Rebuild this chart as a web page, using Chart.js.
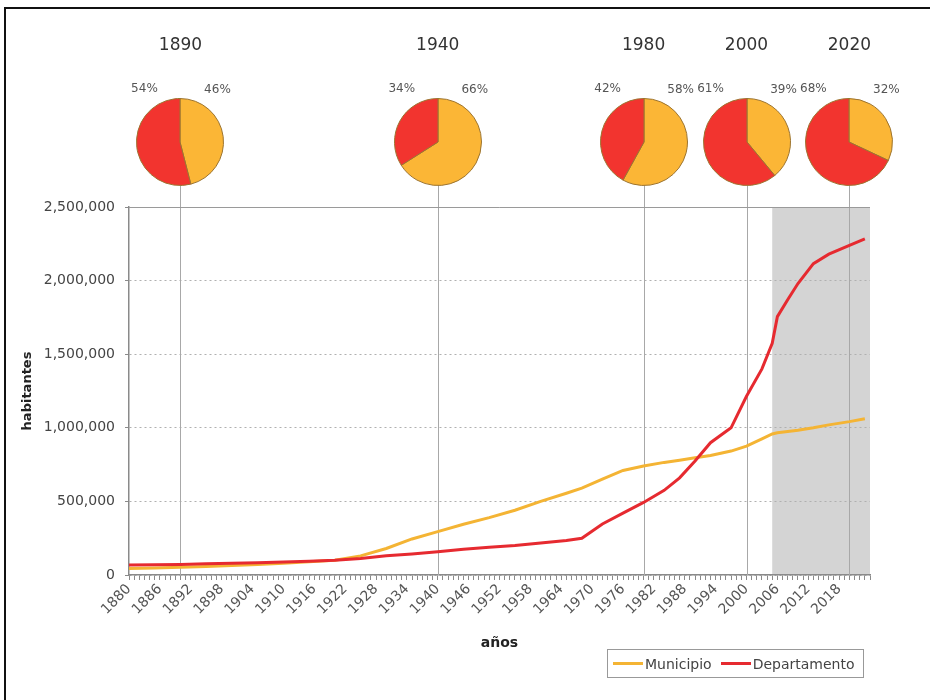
<!DOCTYPE html>
<html>
<head>
<meta charset="utf-8">
<script src="https://cdn.jsdelivr.net/npm/chart.js@4.4.1/dist/chart.umd.min.js"></script>
<style>
html,body{margin:0;padding:0;background:#fff;width:930px;height:700px;overflow:hidden;font-family:"DejaVu Sans",sans-serif;}
#wrap{position:relative;width:930px;height:700px;}
#frame{position:absolute;left:4px;top:7px;width:960px;height:720px;border-left:2px solid #111;border-top:2px solid #111;pointer-events:none;}
#main{position:absolute;left:0;top:0;}
.pie{position:absolute;}
.yr{position:absolute;font-size:17px;color:#333;transform:translateX(-50%);white-space:nowrap;}
.pct{position:absolute;font-size:12px;color:#555;transform:translateX(-50%);white-space:nowrap;}
#legend{position:absolute;left:607px;top:649px;width:257px;height:29px;border:1.5px solid #999;box-sizing:border-box;font-size:14px;color:#444;display:flex;align-items:center;padding-left:5px;}
#legend .sw{display:inline-block;width:30px;height:3px;margin-right:2px;}
#legend .it{display:flex;align-items:center;margin-right:9px;}
</style>
</head>
<body>
<div id="wrap">
  <canvas id="main" width="930" height="700"></canvas>
  <div id="legend"></div>
  <div id="frame"></div>
</div>
<script>
// ---- data ----
const years = [1880,1885,1890,1895,1900,1905,1910,1915,1920,1925,1930,1935,1940,1945,1950,1955,1960,1965,1968,1972,1976,1980,1984,1987,1990,1993,1997,2000,2003,2005,2006,2008,2010,2013,2016,2020,2023];
const municipio = [45000,48000,52000,58000,65000,72000,80000,90000,100000,130000,180000,245000,295000,345000,390000,440000,500000,555000,590000,651000,710000,741000,765000,780000,797000,812000,842000,876000,925000,958000,966000,975000,984000,1000000,1020000,1042000,1061000];
const departamento = [68000,70000,72000,76000,80000,84000,88000,94000,100000,112000,130000,143000,158000,175000,188000,200000,218000,235000,250000,347000,420000,493000,575000,660000,775000,899000,1000000,1214000,1400000,1574000,1755000,1870000,1980000,2115000,2180000,2240000,2284000];
const seriesNames = ["Municipio","Departamento"];
const pieYears = [1890,1940,1980,2000,2020];
const pieMunicipio = [46,66,58,39,32];
const pieDepartamento = [54,34,42,61,68];
const yTicks = [0,500000,1000000,1500000,2000000,2500000];
const xLabelYears = [1880,1886,1892,1898,1904,1910,1916,1922,1928,1934,1940,1946,1952,1958,1964,1970,1976,1982,1988,1994,2000,2006,2012,2018];
const projectionStart = 2005;
const xAxisTitle = "años";
const yAxisTitle = "habitantes";

const COL_MUN = "#F4B434";
const COL_DEP = "#E62A30";
const PIE_MUN = "#FBB636";
const PIE_DEP = "#F2342F";
const PIE_TOP = 97, PIE_SIZE = 90;
const FONT = "DejaVu Sans";

const decor = {
  id: "decor",
  beforeDraw(chart) {
    const {ctx, chartArea: a, scales: {x}} = chart;
    const x0 = x.getPixelForValue(projectionStart);
    ctx.save();
    ctx.fillStyle = "#d4d4d4";
    ctx.fillRect(x0, a.top, a.right - x0, a.bottom - a.top);
    ctx.restore();
  },
  beforeDatasetsDraw(chart) {
    const {ctx, chartArea: a, scales: {x}} = chart;
    ctx.save();
    ctx.strokeStyle = "#a8a8a8";
    ctx.lineWidth = 1;
    pieYears.forEach(yr => {
      const px = Math.round(x.getPixelForValue(yr)) + 0.5;
      ctx.beginPath();
      ctx.moveTo(px, PIE_TOP + PIE_SIZE - 3);
      ctx.lineTo(px, a.bottom);
      ctx.stroke();
    });
    ctx.strokeStyle = "#9a9a9a";
    ctx.beginPath();
    ctx.moveTo(a.left, Math.round(a.top) + 0.5);
    ctx.lineTo(a.right, Math.round(a.top) + 0.5);
    ctx.stroke();
    ctx.restore();
  }
};

const main = new Chart(document.getElementById("main"), {
  type: "line",
  data: {
    datasets: [
      {label: seriesNames[0], data: years.map((y,i)=>({x:y, y:municipio[i]})), borderColor: COL_MUN, backgroundColor: COL_MUN, borderWidth: 3, pointRadius: 0, tension: 0, order: 1},
      {label: seriesNames[1], data: years.map((y,i)=>({x:y, y:departamento[i]})), borderColor: COL_DEP, backgroundColor: COL_DEP, borderWidth: 3, pointRadius: 0, tension: 0, order: 0}
    ]
  },
  options: {
    responsive: false,
    animation: false,
    devicePixelRatio: 1,
    layout: {padding: {left: 16, right: 60, top: 207, bottom: 45}},
    plugins: {legend: {display: false}, tooltip: {enabled: false}},
    scales: {
      x: {
        type: "linear", min: 1880, max: 2024,
        afterBuildTicks: s => { const t = []; for (let v = 1880; v <= 2024; v++) t.push({value: v}); s.ticks = t; },
        afterFit: s => { s.height = 80; },
        ticks: {autoSkip: false, minRotation: 45, maxRotation: 45, padding: 1,
          callback: v => xLabelYears.includes(v) ? String(v) : "",
          font: {family: FONT, size: 14}, color: "#555"},
        grid: {drawOnChartArea: false, drawTicks: true, tickLength: 5, color: "#8a8a8a", tickColor: "#8a8a8a"},
        border: {color: "#8a8a8a", width: 1.5},
        title: {display: true, text: xAxisTitle, font: {family: FONT, size: 14, weight: "bold"}, color: "#222", padding: {top: 0, bottom: 3}}
      },
      y: {
        min: 0, max: 2500000,
        afterBuildTicks: s => { s.ticks = yTicks.map(v => ({value: v})); },
        afterFit: s => { s.width = 113; },
        ticks: {callback: v => v.toLocaleString("en-US"), font: {family: FONT, size: 14}, color: "#444", padding: 10},
        grid: {color: "#b0b0b0", tickLength: 4, tickColor: "#8a8a8a", lineWidth: 1},
        border: {color: "#8a8a8a", width: 1.5, dash: [2, 3]},
        title: {display: true, text: yAxisTitle, font: {family: FONT, size: 13, weight: "bold"}, color: "#222", padding: {top: 4, bottom: 0}}
      }
    }
  },
  plugins: [decor]
});

// pies, year labels and percentages
const wrap = document.getElementById("wrap");
pieYears.forEach((yr, i) => {
  const cx = main.scales.x.getPixelForValue(yr);
  const lab = document.createElement("div");
  lab.className = "yr"; lab.textContent = String(yr);
  lab.style.left = cx + "px"; lab.style.top = "34px";
  wrap.appendChild(lab);
  const pl = document.createElement("div");
  pl.className = "pct"; pl.textContent = pieDepartamento[i] + "%";
  pl.style.left = (cx - 36) + "px"; pl.style.top = "81px";
  wrap.appendChild(pl);
  const pr = document.createElement("div");
  pr.className = "pct"; pr.textContent = pieMunicipio[i] + "%";
  pr.style.left = (cx + 37) + "px"; pr.style.top = "82px";
  wrap.appendChild(pr);
  const c = document.createElement("canvas");
  c.className = "pie"; c.width = PIE_SIZE; c.height = PIE_SIZE;
  c.style.left = (cx - PIE_SIZE / 2) + "px"; c.style.top = PIE_TOP + "px";
  wrap.appendChild(c);
  new Chart(c, {
    type: "pie",
    data: {labels: seriesNames, datasets: [{data: [pieMunicipio[i], pieDepartamento[i]], backgroundColor: [PIE_MUN, PIE_DEP], borderColor: "#9c7430", borderWidth: 1}]},
    options: {responsive: false, animation: false, devicePixelRatio: 1, layout: {padding: 1}, plugins: {legend: {display: false}, tooltip: {enabled: false}}}
  });
});

// legend
const leg = document.getElementById("legend");
[[seriesNames[0], COL_MUN], [seriesNames[1], COL_DEP]].forEach(([n, col]) => {
  const it = document.createElement("span"); it.className = "it";
  const sw = document.createElement("span"); sw.className = "sw"; sw.style.background = col;
  const tx = document.createElement("span"); tx.textContent = n;
  it.appendChild(sw); it.appendChild(tx); leg.appendChild(it);
});
</script>
</body>
</html>
